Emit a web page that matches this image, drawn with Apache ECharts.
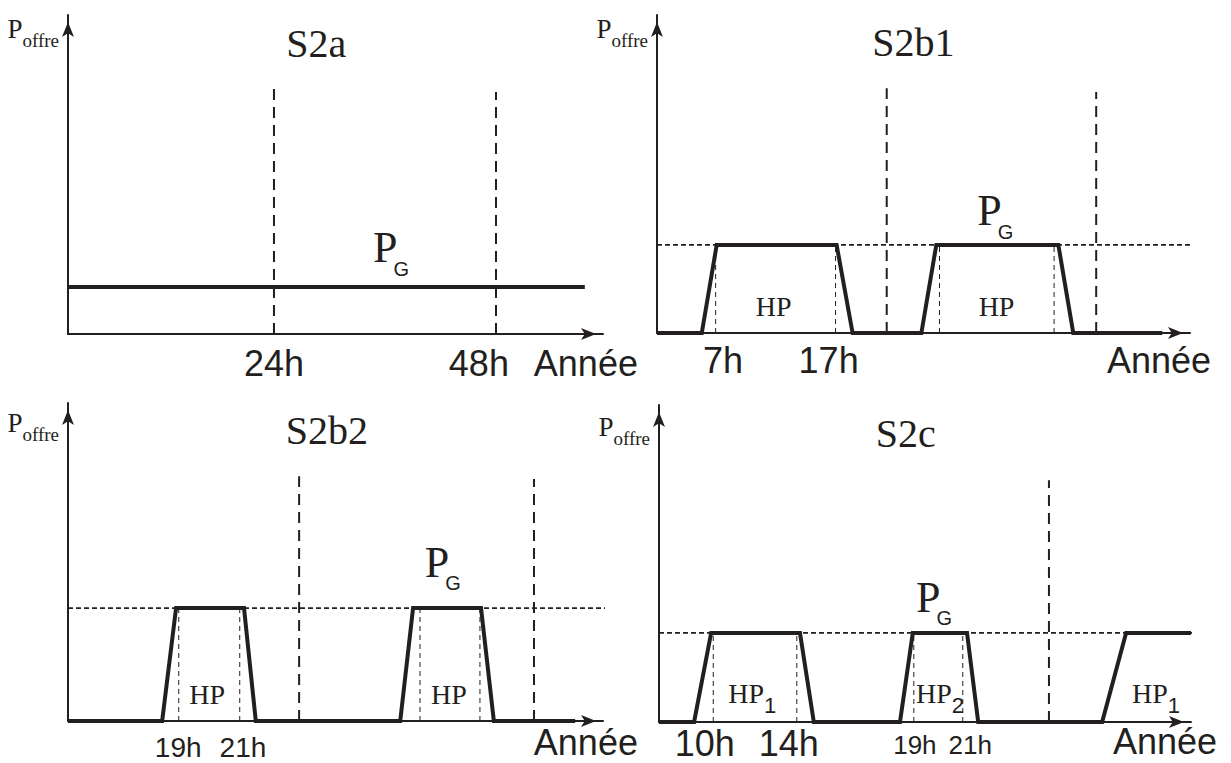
<!DOCTYPE html>
<html>
<head>
<meta charset="utf-8">
<title>Scénarios S2</title>
<script src="https://cdn.jsdelivr.net/npm/echarts@6/dist/echarts.min.js"></script>
<style>
html, body { margin: 0; background: #fff; }
#chart { width: 1231px; height: 763px; }
</style>
</head>
<body>
<div id="chart"></div>
<script>
// schematic units: time 0..100 along each x axis, power 0..100 up each y axis

// S2a : constant supply
const s2aTime = [0, 96.6];
const s2aPower = [14.7, 14.7];
const s2aDays = [38.5, 80.0];
const s2aDayTop = [77.1, 75.9];
const s2aTickPos = [38.5, 76.8, 96.8];
const s2aTicks = ['24h', '48h', 'Année'];

// S2b1 : one long peak per day
const s2b1Time = [0, 8.4, 11.2, 33.7, 36.7, 49.6, 52.4, 75.3, 78.1, 94.8];
const s2b1Power = [0, 0, 27.7, 27.7, 0, 0, 27.7, 27.7, 0, 0];
const s2b1Level = 27.7;
const s2b1Peaks = [11.0, 33.5, 53.0, 74.5];
const s2b1Days = [43.1, 82.4];
const s2b1DayTop = [77.0, 75.8];
const s2b1TickPos = [12.4, 32.2, 94.2];
const s2b1Ticks = ['7h', '17h', 'Année'];
const s2b1Hp = [21.9, 63.7];

// S2b2 : short evening peak
const s2b2Time = [0, 17.6, 20.2, 32.9, 35.1, 62.1, 64.5, 77.2, 79.6, 94.8];
const s2b2Power = [0, 0, 35.5, 35.5, 0, 0, 35.5, 35.5, 0, 0];
const s2b2Level = 35.5;
const s2b2Peaks = [20.7, 32.1, 65.8, 77.0];
const s2b2Days = [43.2, 87.1];
const s2b2DayTop = [77.0, 76.1];
const s2b2SmallTickPos = [20.6, 32.7];
const s2b2SmallTicks = ['19h', '21h'];
const s2b2Hp = [26.0, 71.2];

// S2c : two peaks per day
const s2cTime = [0, 6.6, 9.8, 26.5, 29.1, 45.3, 47.7, 57.9, 60.0, 83.3, 87.8, 100];
const s2cPower = [0, 0, 28.1, 28.1, 0, 0, 28.1, 28.1, 0, 0, 28.1, 28.1];
const s2cLevel = 28.1;
const s2cPeaks = [10.2, 25.9, 47.9, 57.1];
const s2cDays = [73.3];
const s2cDayTop = [76.3];
const s2cTickPos = [8.6, 24.4];
const s2cTicks = ['10h', '14h'];
const s2cSmallTickPos = [48.1, 58.5];
const s2cSmallTicks = ['19h', '21h'];
const s2cHp = [13.0, 48.3, 88.9];
const s2cHpSub = ['1', '2', '1'];

const titles = ['S2a', 'S2b1', 'S2b2', 'S2c'];

const INK = '#231f20';
const SERIF = '"Liberation Serif", "DejaVu Serif", serif';
const SANS = '"Liberation Sans", "DejaVu Sans", sans-serif';

const grids = [
    { left: 68, top: 15, width: 535, height: 319 },
    { left: 657, top: 15, width: 533, height: 318 },
    { left: 68, top: 403, width: 535, height: 318 },
    { left: 659, top: 405, width: 532, height: 317 }
];
const nameGaps = [0, 0, -6, -8];

function pairs(xs, ys) {
    return xs.map((x, i) => [x, ys[i]]);
}

function seg(g, data, lineStyle, z) {
    return {
        type: 'line', xAxisIndex: g, yAxisIndex: g, data: data,
        symbol: 'none', clip: false, silent: true, z: z || 2,
        lineStyle: lineStyle
    };
}

// invisible points that only carry a text label
function texts(g, xs, ys, names, label) {
    return {
        type: 'scatter', xAxisIndex: g, yAxisIndex: g, clip: false, silent: true, z: 6,
        symbolSize: 1, itemStyle: { color: 'rgba(0,0,0,0)', opacity: 1 },
        data: xs.map((x, i) => ({ value: [x, Array.isArray(ys) ? ys[i] : ys], name: names[i] })),
        label: Object.assign({
            show: true, position: 'inside', color: INK, opacity: 1,
            align: 'center', verticalAlign: 'middle',
            formatter: p => p.name
        }, label)
    };
}

const dayLine = { color: INK, width: 2, type: [11, 7] };
const levelLine = { color: INK, width: 1.6, type: [5, 3] };
const peakLine = { color: INK, width: 1, type: [5, 4] };
const profileLine = { color: INK, width: 4, join: 'miter' };

const titleLabel = { fontFamily: SERIF, fontSize: 40 };
const tickLabel = { fontFamily: SANS, fontSize: 36 };
const midTickLabel = { fontFamily: SANS, fontSize: 28 };
const smallTickLabel = { fontFamily: SANS, fontSize: 26 };
const hpLabel = { fontFamily: SERIF, fontSize: 28 };
const hpSubLabel = {
    align: 'left', offset: [0, 12],
    rich: {
        p: { fontFamily: SERIF, fontSize: 28, lineHeight: 28, verticalAlign: 'top', color: INK },
        s: { fontFamily: SANS, fontSize: 22, lineHeight: 52, color: INK }
    }
};
const pgLabel = {
    align: 'left', offset: [0, 21],
    rich: {
        p: { fontFamily: SERIF, fontSize: 44, lineHeight: 44, verticalAlign: 'top', color: INK },
        g: { fontFamily: SANS, fontSize: 20, lineHeight: 86, padding: [0, 0, 0, -4], color: INK }
    }
};

function panel(g, d) {
    const s = [];
    d.days.forEach((x, i) => s.push(seg(g, [[x, 0], [x, d.dayTop[i]]], dayLine)));
    if (d.level != null) {
        s.push(seg(g, [[0, d.level], [d.levelEnd, d.level]], levelLine));
        d.peaks.forEach(x => s.push(seg(g, [[x, 0], [x, d.level]], peakLine)));
    }
    s.push(seg(g, pairs(d.time, d.power), profileLine, 5));
    s.push(texts(g, [d.title[0]], d.title[1], [titles[g]], titleLabel));
    s.push(texts(g, [d.pg[0]], d.pg[1], ['{p|P}{g|G}'], pgLabel));
    return s;
}

const series = [].concat(
    panel(0, { time: s2aTime, power: s2aPower, days: s2aDays, dayTop: s2aDayTop,
        title: [46.4, 91.2], pg: [57.0, 27.0] }),
    texts(0, s2aTickPos, -9.1, s2aTicks, tickLabel),

    panel(1, { time: s2b1Time, power: s2b1Power, days: s2b1Days, dayTop: s2b1DayTop,
        level: s2b1Level, levelEnd: 100.7, peaks: s2b1Peaks,
        title: [48.1, 91.2], pg: [60.1, 38.4] }),
    texts(1, s2b1TickPos, -8.5, s2b1Ticks, tickLabel),
    texts(1, s2b1Hp, 8.2, ['HP', 'HP'], hpLabel),

    panel(2, { time: s2b2Time, power: s2b2Power, days: s2b2Days, dayTop: s2b2DayTop,
        level: s2b2Level, levelEnd: 100.7, peaks: s2b2Peaks,
        title: [48.4, 91.5], pg: [66.7, 50.0] }),
    texts(2, s2b2SmallTickPos, -8.2, s2b2SmallTicks, midTickLabel),
    texts(2, [96.8], -6.9, ['Année'], tickLabel),
    texts(2, s2b2Hp, 8.2, ['HP', 'HP'], hpLabel),

    panel(3, { time: s2cTime, power: s2cPower, days: s2cDays, dayTop: s2cDayTop,
        level: s2cLevel, levelEnd: 101.1, peaks: s2cPeaks,
        title: [46.4, 90.9], pg: [48.3, 39.4] }),
    texts(3, s2cTickPos, -6.9, s2cTicks, tickLabel),
    texts(3, s2cSmallTickPos, -7.3, s2cSmallTicks, smallTickLabel),
    texts(3, [95.1], -6.0, ['Année'], tickLabel),
    texts(3, s2cHp, 9.1, s2cHpSub.map(n => '{p|HP}{s|' + n + '}'), hpSubLabel)
);

const axisLine = {
    show: true, onZero: false,
    symbol: ['none', 'arrow'], symbolSize: [9, 15], symbolOffset: [0, -7],
    lineStyle: { color: INK, width: 2 }
};

const option = {
    animation: false,
    backgroundColor: '#fff',
    grid: grids,
    xAxis: grids.map((_, i) => ({
        gridIndex: i, type: 'value', min: 0, max: 100,
        axisLine: axisLine, axisTick: { show: false },
        axisLabel: { show: false }, splitLine: { show: false }
    })),
    yAxis: grids.map((_, i) => ({
        gridIndex: i, type: 'value', min: 0, max: 100,
        axisLine: axisLine, axisTick: { show: false },
        axisLabel: { show: false }, splitLine: { show: false },
        name: '{p|P}{s|offre}', nameLocation: 'end', nameGap: nameGaps[i],
        nameTextStyle: {
            align: 'right', verticalAlign: 'top', padding: [0, 9, 0, 0],
            rich: {
                p: { fontFamily: SERIF, fontSize: 27, lineHeight: 27, verticalAlign: 'top', color: INK },
                s: { fontFamily: SERIF, fontSize: 19, lineHeight: 50, color: INK }
            }
        }
    })),
    series: series
};

const chart = echarts.init(document.getElementById('chart'), null, { renderer: 'svg' });
chart.setOption(option);
</script>
</body>
</html>
